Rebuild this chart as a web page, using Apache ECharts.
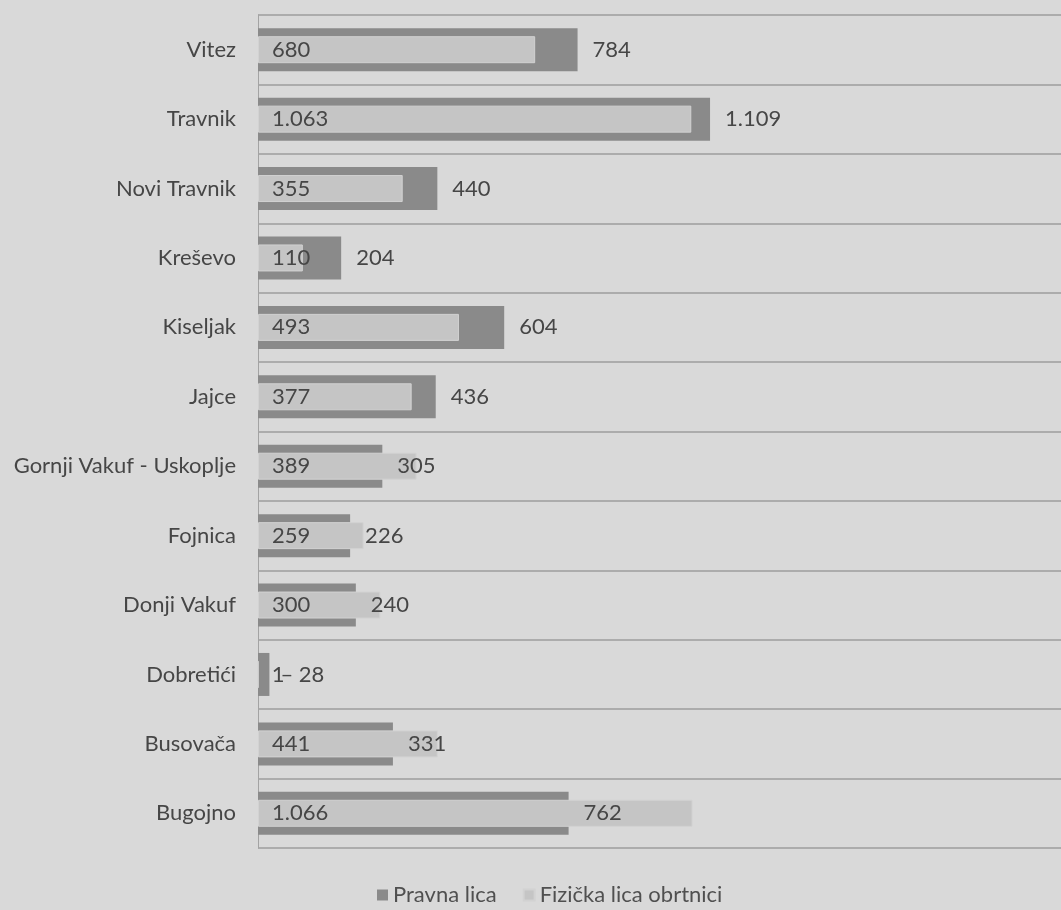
<!DOCTYPE html>
<html>
<head>
<meta charset="utf-8">
<script src="https://cdn.jsdelivr.net/npm/echarts@6/dist/echarts.min.js"></script>
<style>
html,body{margin:0;padding:0;background:#d9d9d9;}
#c{width:1061px;height:910px;}
</style>
</head>
<body>
<div id="c"></div>
<script>
const categories = ['Bugojno','Busovača','Dobretići','Donji Vakuf','Fojnica','Gornji Vakuf - Uskoplje','Jajce','Kiseljak','Kreševo','Novi Travnik','Travnik','Vitez'];
const pravnaLica = [762,331,28,240,226,305,436,604,204,440,1109,784];
const fizickaLica = [1066,441,1,300,259,389,377,493,110,355,1063,680];
const seriesNames = ['Pravna lica','Fizička lica obrtnici'];

function fmt(v){ return String(v).replace(/\B(?=(\d{3})+(?!\d))/g,'.'); }

// Dobretići's labels are crowded: the reference shows a leader dash before its value
const crowdedIdx = categories.indexOf('Dobretići');
const pravnaData = pravnaLica.map((v,i)=> i===crowdedIdx
  ? {value:v,label:{distance:11,formatter:p=>'\u2013 '+fmt(p.value)}}
  : v);

const font = 'Lato';
const chart = echarts.init(document.getElementById('c'));
chart.setOption({
  backgroundColor:'#d9d9d9',
  animation:false,
  grid:{left:258,top:15,bottom:62,right:0,containLabel:false},
  xAxis:{type:'value',min:0,max:1970,show:false},
  yAxis:[{
    type:'category',data:categories,
    axisLine:{show:true,lineStyle:{color:'#a3a3a3',width:1}},
    axisTick:{show:false},
    axisLabel:{color:'#464646',fontSize:22,fontFamily:font,margin:22},
    splitLine:{show:true,lineStyle:{color:'#9c9c9c',width:1.5}}
  },{
    type:'category',data:categories,show:false
  }],
  legend:{
    bottom:-1,left:372,
    itemWidth:11,itemHeight:11,itemGap:26,
    icon:'rect',
    textStyle:{color:'#505050',fontSize:22,fontFamily:font},
    data:seriesNames
  },
  series:[{
    name:seriesNames[0],type:'bar',yAxisIndex:0,
    data:pravnaData,barWidth:43,
    itemStyle:{color:'#8a8a8a'},
    label:{show:true,position:'right',distance:15,color:'#464646',fontSize:22,fontFamily:font,
      formatter:p=>fmt(p.value)}
  },{
    name:seriesNames[1],type:'bar',yAxisIndex:1,
    data:fizickaLica,barWidth:27,
    itemStyle:{color:'#c5c5c5',borderColor:'#d2d2d2',borderWidth:1},
    label:{show:true,position:'insideLeft',distance:14,color:'#464646',fontSize:22,fontFamily:font,
      formatter:p=>fmt(p.value)}
  }]
});
</script>
</body>
</html>
